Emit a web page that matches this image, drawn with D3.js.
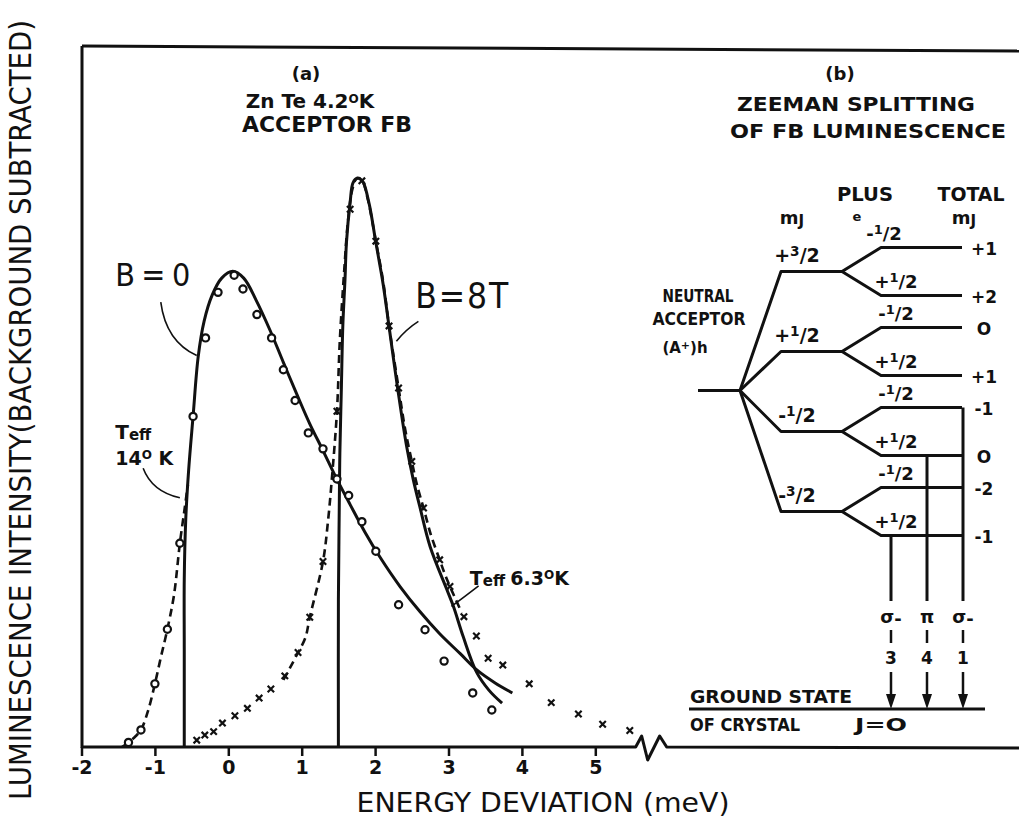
<!DOCTYPE html>
<html>
<head>
<meta charset="utf-8">
<script src="https://cdn.jsdelivr.net/npm/d3@7"></script>
<style>
  body { margin: 0; background: #fff; }
  svg text { font-family: "DejaVu Sans", sans-serif; fill: #111; }
</style>
</head>
<body>
<svg id="chart" width="1019" height="818"></svg>
<script>
// energy in meV, intensity in arbitrary units (B=8T peak ~ 100)
const tickValues = [-2, -1, 0, 1, 2, 3, 4, 5];

// B = 0 : measured points (open circles)
const b0Circles = [[-1.36,0.8],[-1.19,3.0],[-1.00,11.1],[-0.83,20.7],[-0.66,35.8],[-0.48,58.1],
  [-0.31,71.9],[-0.14,79.9],[0.08,82.9],[0.20,80.5],[0.39,76.0],[0.59,71.9],[0.75,66.3],
  [0.91,60.9],[1.09,55.2],[1.29,52.4],[1.48,47.1],[1.64,44.2],[1.82,39.6],[2.01,34.4],
  [2.32,25.0],[2.68,20.6],[2.94,15.1],[3.33,9.5],[3.59,6.5]];
// B = 0 : theory, sharp onset
const b0Fit = [[-0.60,0],[-0.60,17.1],[-0.60,29.4],[-0.58,39.9],[-0.54,48.7],[-0.48,58.1],
  [-0.41,68.6],[-0.33,74.8],[-0.22,79.4],[-0.09,82.4],[0.06,83.6],[0.21,82.4],[0.38,78.5],
  [0.57,73.2],[0.75,67.6],[0.94,61.8],[1.11,56.8],[1.29,52.1],[1.47,47.3],[1.66,42.6],
  [1.86,37.8],[2.07,33.3],[2.34,28.2],[2.61,23.8],[2.88,19.9],[3.16,16.4],[3.39,13.5],
  [3.63,11.3],[3.87,9.5]];
// B = 0 : Teff 14 K (dashed)
const b0Teff = [[-1.45,0],[-1.36,0.8],[-1.27,1.8],[-1.19,3.0],[-1.09,6.5],[-1.00,11.1],
  [-0.92,15.7],[-0.83,20.7],[-0.74,26.7],[-0.66,35.8],[-0.60,41.4],[-0.56,45.2],[-0.55,46.1]];

// B = 8T : measured points (crosses)
const b8Crosses = [[-0.43,1.2],[-0.32,2.1],[-0.20,2.7],[-0.08,4.2],[0.09,5.5],[0.26,6.8],
  [0.42,8.6],[0.58,10.2],[0.77,12.5],[0.95,16.6],[1.11,22.8],[1.29,32.6],[1.48,59.0],
  [1.66,94.5],[1.82,99.5],[2.01,88.9],[2.19,74.0],[2.32,63.1],[2.50,50.2],[2.66,42.0],
  [2.88,32.9],[3.02,28.2],[3.21,22.9],[3.38,19.5],[3.54,15.6],[3.74,14.4],[4.10,11.1],
  [4.40,7.8],[4.77,5.8],[5.10,4.0],[5.47,2.9]];
// B = 8T : theory
const b8Fit = [[1.50,0],[1.50,25.9],[1.51,39.9],[1.52,51.7],[1.54,62.8],[1.56,73.9],
  [1.59,82.2],[1.61,88.7],[1.66,95.7],[1.70,99.2],[1.76,100],[1.79,99.9],[1.84,99.2],
  [1.92,95.4],[2.01,88.7],[2.11,81.3],[2.19,73.9],[2.31,62.8],[2.43,52.8],[2.52,47.0],
  [2.61,42.2],[2.75,35.2],[2.98,27.6],[3.07,24.6],[3.20,19.4],[3.38,13.2],[3.55,10.0],[3.73,7.7]];
// B = 8T : Teff 6.3 K (dashed)
const b8Teff = [[0.75,11.8],[0.84,13.9],[0.95,16.6],[1.05,19.2],[1.11,22.8],[1.29,32.6],
  [1.36,39.9],[1.41,47.0],[1.48,58.9],[1.52,71.6],[1.58,83.9],[1.63,92.4],[1.69,98.0],
  [1.75,99.9],[1.82,99.6],[1.90,96.3],[2.01,88.9],[2.11,81.8],[2.19,74.0],[2.32,63.1],
  [2.41,55.8],[2.50,50.2],[2.57,46.1],[2.66,42.0],[2.76,37.3],[2.88,32.9],[2.95,30.4],
  [3.02,28.2],[3.10,25.9],[3.18,23.6]];

// panel (b) level scheme
const mainLevels = ['+3/2', '+1/2', '-1/2', '-3/2'];
const eSpins = ['-1/2', '+1/2'];
const totalMJ = ['+1', '+2', 'O', '+1', '-1', 'O', '-2', '-1'];
const transitions = [
  { sub: 7, pol: 'σ', minus: true, num: '3' },
  { sub: 5, pol: 'π', minus: false, num: '4' },
  { sub: 4, pol: 'σ', minus: true, num: '1' }
];

const svg = d3.select('#chart');
const ink = '#111';

const x = d3.scaleLinear().domain([-2, 5]).range([81.5, 595.3]);
const y = d3.scaleLinear().domain([0, 100]).range([747, 178]);

// frame
svg.append('path').attr('d', 'M82,46 L1019,51').attr('stroke', ink).attr('stroke-width', 3).attr('fill', 'none');
svg.append('path').attr('d', 'M82,46 L82,748').attr('stroke', ink).attr('stroke-width', 3).attr('fill', 'none');

// bottom axis with break
const y0 = y(0);
const bx = x(5.55);
svg.append('path')
  .attr('d', `M${x(-2)},${y0} L${bx},${y0} L${bx + 6},${y0 - 11} L${bx + 12},${y0 + 13} L${bx + 24},${y0 - 11} L${bx + 31},${y0} L1019,${y0 + 1}`)
  .attr('stroke', ink).attr('stroke-width', 3).attr('fill', 'none').attr('stroke-linejoin', 'round');

const axis = svg.append('g').attr('transform', `translate(0,${y0})`)
  .call(d3.axisBottom(x).tickValues(tickValues).tickSize(9).tickPadding(5).tickFormat(d => String(d)));
axis.select('.domain').remove();
axis.selectAll('line').attr('stroke', ink).attr('stroke-width', 2.5);
axis.selectAll('text').style('font-size', '19px').style('font-weight', 'bold').attr('fill', ink);

// axis titles
svg.append('text').attr('x', 543).attr('y', 812).attr('text-anchor', 'middle')
  .attr('textLength', 373).attr('lengthAdjust', 'spacingAndGlyphs')
  .style('font-size', '27px').text('ENERGY DEVIATION (meV)');
svg.append('text').attr('transform', 'translate(31,410) rotate(-90)').attr('text-anchor', 'middle')
  .attr('textLength', 780).attr('lengthAdjust', 'spacingAndGlyphs')
  .style('font-family', '"DejaVu Sans Condensed", "DejaVu Sans", sans-serif')
  .style('font-size', '30px').text('LUMINESCENCE INTENSITY(BACKGROUND SUBTRACTED)');

// curves
const line = d3.line().x(d => x(d[0])).y(d => y(d[1])).curve(d3.curveCatmullRom.alpha(0.5));
const plot = svg.append('g');
plot.append('path').attr('d', line(b0Teff)).attr('fill', 'none').attr('stroke', ink)
  .attr('stroke-width', 2.6).attr('stroke-dasharray', '8,5');
plot.append('path').attr('d', line(b8Teff)).attr('fill', 'none').attr('stroke', ink)
  .attr('stroke-width', 2.6).attr('stroke-dasharray', '8,5');
plot.append('path').attr('d', line(b0Fit)).attr('fill', 'none').attr('stroke', ink).attr('stroke-width', 3);
plot.append('path').attr('d', line(b8Fit)).attr('fill', 'none').attr('stroke', ink).attr('stroke-width', 3);

plot.selectAll('.circ').data(b0Circles).join('circle').attr('class', 'circ')
  .attr('cx', d => x(d[0])).attr('cy', d => y(d[1])).attr('r', 3.6)
  .attr('fill', '#fff').attr('stroke', ink).attr('stroke-width', 2.2);
plot.selectAll('.cross').data(b8Crosses).join('path').attr('class', 'cross')
  .attr('d', d => { const cx = x(d[0]), cy = y(d[1]), s = 3.2;
    return `M${cx - s},${cy - s}L${cx + s},${cy + s}M${cx + s},${cy - s}L${cx - s},${cy + s}`; })
  .attr('stroke', ink).attr('stroke-width', 2.2).attr('fill', 'none');

// annotations (positions in data units)
function leader(p0, c, p1) {
  return `M${x(p0[0])},${y(p0[1])} Q${x(c[0])},${y(c[1])} ${x(p1[0])},${y(p1[1])}`;
}
const condensed = '"DejaVu Sans Condensed", "DejaVu Sans", sans-serif';
const ann = svg.append('g');
ann.append('text').attr('x', x(-1.03)).attr('y', y(81.0)).attr('text-anchor', 'middle')
  .attr('textLength', 75).attr('lengthAdjust', 'spacing')
  .style('font-family', condensed).style('font-size', '32px').text('B=0');
ann.append('path').attr('d', leader([-0.92, 78.2], [-0.85, 71.3], [-0.43, 68.8]))
  .attr('fill', 'none').attr('stroke', ink).attr('stroke-width', 1.6);
ann.append('text').attr('x', x(3.18)).attr('y', y(77.2)).attr('text-anchor', 'middle')
  .attr('textLength', 93).attr('lengthAdjust', 'spacing')
  .style('font-family', condensed).style('font-size', '35px').text('B=8T');
ann.append('path').attr('d', leader([2.59, 74.8], [2.42, 73.4], [2.29, 71.3]))
  .attr('fill', 'none').attr('stroke', ink).attr('stroke-width', 1.6);

const t14 = ann.append('text').attr('x', x(-1.54)).attr('y', y(54.2)).style('font-weight', 'bold').style('font-size', '20px');
t14.append('tspan').text('T');
t14.append('tspan').attr('dy', 1).style('font-size', '15px').text('eff');
const t14b = ann.append('text').attr('x', x(-1.54)).attr('y', y(49.6)).style('font-weight', 'bold').style('font-size', '19px');
t14b.append('tspan').text('14');
t14b.append('tspan').attr('dy', -6).style('font-size', '12px').text('O');
t14b.append('tspan').attr('dy', 6).text(' K');
ann.append('path').attr('d', leader([-1.16, 49.0], [-1.04, 44.9], [-0.66, 43.8]))
  .attr('fill', 'none').attr('stroke', ink).attr('stroke-width', 1.6);

const t63 = ann.append('text').attr('x', x(3.29)).attr('y', y(28.5)).style('font-weight', 'bold').style('font-size', '19px');
t63.append('tspan').text('T');
t63.append('tspan').attr('dy', 1).style('font-size', '15px').text('eff ');
t63.append('tspan').attr('dy', -1).text('6.3');
t63.append('tspan').attr('dy', -6).style('font-size', '12px').text('O');
t63.append('tspan').attr('dy', 6).text('K');
ann.append('path').attr('d', leader([3.41, 28.3], [3.20, 26.2], [3.04, 24.7]))
  .attr('fill', 'none').attr('stroke', ink).attr('stroke-width', 1.6);

// panel titles
function label(g, px, py, str, size, opts = {}) {
  const t = g.append('text').attr('x', px).attr('y', py)
    .attr('text-anchor', opts.anchor || 'middle')
    .style('font-size', size + 'px').style('font-weight', opts.weight || 'bold');
  if (opts.len) t.attr('textLength', opts.len).attr('lengthAdjust', 'spacingAndGlyphs');
  t.text(str);
  return t;
}
const titles = svg.append('g');
label(titles, 306, 80, '(a)', 18);
const zn = label(titles, 310, 108, '', 20);
zn.append('tspan').text('Zn Te 4.2');
zn.append('tspan').attr('dy', -5).style('font-size', '12px').text('O');
zn.append('tspan').attr('dy', 5).text('K');
label(titles, 327, 132, 'ACCEPTOR  FB', 21, { len: 170 });

label(titles, 840, 80, '(b)', 18);
label(titles, 856, 111, 'ZEEMAN  SPLITTING', 20, { len: 238 });
label(titles, 868, 138, 'OF FB LUMINESCENCE', 20, { len: 276 });

// ---- panel (b) diagram
const dg = svg.append('g');
const lv = d3.scaleLinear().domain([0, mainLevels.length - 1]).range([271.5, 511.5]);
const subY = i => lv(Math.floor(i / 2)) + (i % 2 === 0 ? -24 : 24);
const X = { n0: 698, br: 740, m0: 781, m1: 842, s0: 881, s1: 963, tr: [891, 927, 963] };
const lineAttr = s => s.attr('stroke', ink).attr('stroke-width', 3).attr('fill', 'none').attr('stroke-linejoin', 'round');

function frac(g, px, py, s, size) {
  const t = g.append('text').attr('x', px).attr('y', py).attr('text-anchor', 'middle')
    .style('font-size', size + 'px').style('font-weight', 'bold');
  t.append('tspan').text(s[0]);
  t.append('tspan').attr('dy', -size * 0.3).style('font-size', (size * 0.72) + 'px').text(s[1]);
  t.append('tspan').attr('dy', size * 0.3).text('/2');
  return t;
}

const midY = lv(1.5) - 1;
lineAttr(dg.append('path').attr('d', `M${X.n0},${midY} L${X.br},${midY}`));
mainLevels.forEach((m, i) => {
  const ly = lv(i);
  lineAttr(dg.append('path').attr('d', `M${X.br},${midY} L${X.m0},${ly} L${X.m1},${ly}`));
  frac(dg, 797, ly - 10, m, 19);
  [0, 1].forEach(k => {
    const si = i * 2 + k, sy = subY(si);
    lineAttr(dg.append('path').attr('d', `M${X.m1},${ly} L${X.s0},${sy} L${X.s1 - 1},${sy}`));
    frac(dg, si === 0 ? 884 : 896, sy - 8, eSpins[k], 18);
    dg.append('text').attr('x', 984).attr('y', sy + 7).attr('text-anchor', 'middle')
      .style('font-size', '17px').style('font-weight', 'bold').text(totalMJ[si]);
  });
});

// column headings
label(dg, 865, 201, 'PLUS', 19, { len: 56 });
label(dg, 971, 201, 'TOTAL', 19, { len: 67 });
[792, 964].forEach(cx => {
  const t = label(dg, cx, 224, '', 18);
  t.append('tspan').text('m');
  t.append('tspan').attr('dy', 2).style('font-size', '15px').text('J');
});
label(dg, 857, 221, 'e', 13);

label(dg, 698, 302, 'NEUTRAL', 18, { len: 71 });
label(dg, 699, 325, 'ACCEPTOR', 18, { len: 93 });
const ah = label(dg, 685, 353, '', 15);
ah.append('tspan').text('(A');
ah.append('tspan').attr('dy', -4).style('font-size', '11px').text('+');
ah.append('tspan').attr('dy', 4).text(')h');

// transitions to ground state
const gY = 709;
transitions.forEach((t, i) => {
  const tx = X.tr[i];
  lineAttr(dg.append('path').attr('d', `M${tx},${subY(t.sub)} L${tx},601`));
  const pl = dg.append('text').attr('x', tx).attr('y', 623).attr('text-anchor', 'middle')
    .style('font-size', '18px').style('font-weight', 'bold');
  pl.append('tspan').text(t.pol);
  if (t.minus) pl.append('tspan').attr('dy', 2).text('-');
  dg.append('path').attr('d', `M${tx},630 L${tx},643`).attr('stroke', ink).attr('stroke-width', 2.5);
  label(dg, tx, 664, t.num, 17);
  dg.append('path').attr('d', `M${tx},672 L${tx},${gY - 10}`).attr('stroke', ink).attr('stroke-width', 2.5);
  dg.append('path').attr('d', `M${tx - 5},${gY - 15} L${tx + 5},${gY - 15} L${tx},${gY} Z`).attr('fill', ink);
});
lineAttr(dg.append('path').attr('d', `M689,${gY} L985,${gY}`));
label(dg, 690, 703, 'GROUND STATE', 17, { anchor: 'start', len: 162 });
label(dg, 690, 731, 'OF CRYSTAL', 17, { anchor: 'start', len: 110 });
label(dg, 855, 731, 'J=O', 17, { anchor: 'start', len: 52 });
</script>
</body>
</html>
